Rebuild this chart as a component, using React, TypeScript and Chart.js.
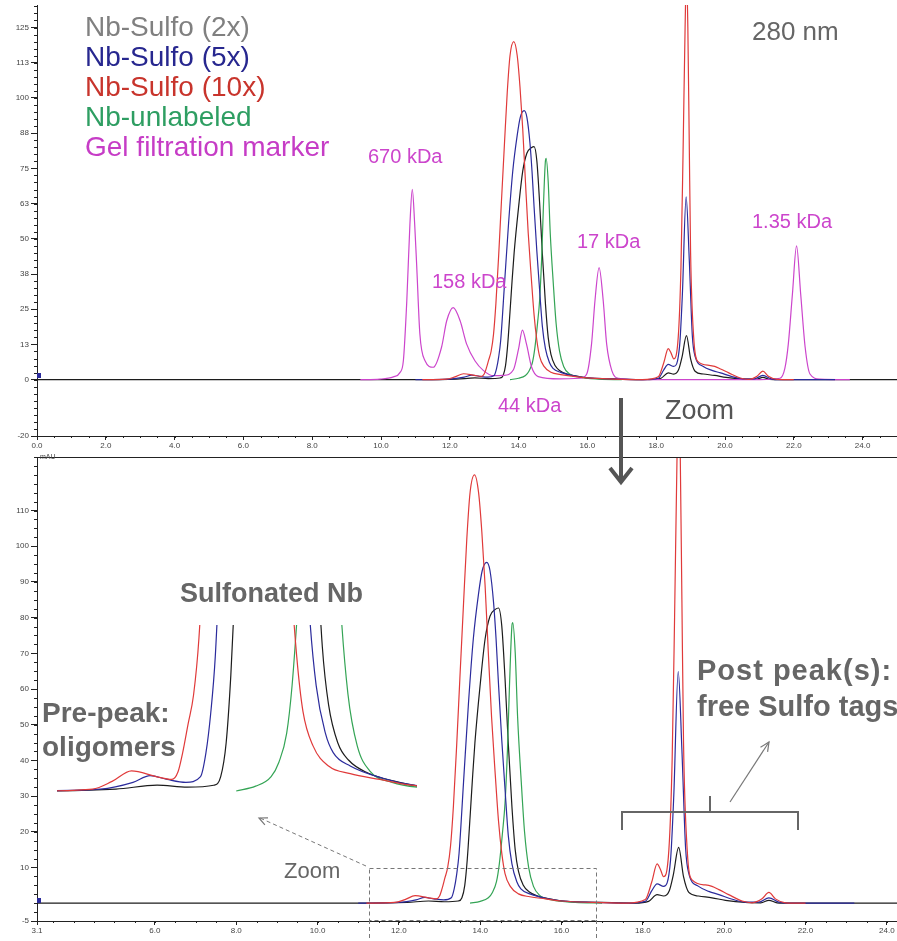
import React, { useEffect, useRef } from 'react';
import { Chart, registerables } from 'chart.js';

Chart.register(...registerables);

type Pt = [number, number];

// ---------- DATA (x = elution volume, y = absorbance 280 nm) ----------
const SERIES_NAMES = ['Nb-Sulfo (2x)', 'Nb-Sulfo (5x)', 'Nb-Sulfo (10x)', 'Nb-unlabeled', 'Gel filtration marker'];

const nbSulfo2x: Pt[] = [
  [0, 0], [11.0, 0], [12.2, 0.2], [12.73, 0.6], [13.12, 0.4], [13.46, 0.6], [13.55, 1.5], [13.62, 5],
  [13.68, 12], [13.75, 24], [13.81, 35], [13.87, 45], [14.0, 61.3], [14.12, 74], [14.24, 80.4],
  [14.37, 82.3], [14.45, 82.7], [14.53, 77.7], [14.61, 63], [14.69, 44.8], [14.78, 27], [14.86, 15],
  [14.94, 9], [15.06, 5], [15.2, 3.2], [15.44, 1.9], [15.8, 1.0], [16.1, 0.5], [17.0, 0.2], [17.8, 0],
  [18.14, 0.5], [18.35, 2.4], [18.51, 2.0], [18.65, 3.5], [18.75, 8], [18.88, 15.6], [19.0, 7.4],
  [19.13, 3.0], [19.37, 2.0], [19.7, 1.5], [20.03, 0.8], [20.52, 0.2], [20.9, 0.1], [21.1, 0.8],
  [21.3, 0.1], [21.6, 0], [25, 0],
];

const nbSulfo5x: Pt[] = [
  [11.0, 0], [12.0, 0.2], [12.42, 0.9], [12.64, 1.6], [12.86, 1.2], [13.1, 0.9], [13.29, 1.5], [13.36, 4],
  [13.42, 8], [13.48, 14], [13.59, 33.9], [13.71, 55.8], [13.83, 74], [13.96, 86.8], [14.05, 93.2],
  [14.16, 95.5], [14.24, 93.2], [14.33, 84], [14.39, 74], [14.45, 61.3], [14.53, 45.7], [14.61, 32],
  [14.69, 19], [14.78, 11], [14.9, 6], [15.0, 4.0], [15.22, 2.6], [15.65, 1.3], [16.04, 0.6], [16.8, 0.2],
  [17.6, 0], [18.06, 0.5], [18.22, 3.5], [18.35, 5.4], [18.51, 4.7], [18.68, 12], [18.76, 30],
  [18.87, 64.9], [18.96, 43], [19.05, 15.6], [19.13, 8.3], [19.37, 4.7], [19.62, 3.3], [19.87, 2.4],
  [20.2, 1.1], [20.52, 0.3], [20.85, 0.3], [21.1, 1.5], [21.34, 0.3], [21.6, 0], [23.2, 0],
];

const nbSulfo10x: Pt[] = [
  [11.2, 0], [11.9, 0.2], [12.15, 1.0], [12.4, 2.1], [12.72, 1.5], [12.92, 1.2], [13.0, 2.0], [13.06, 4.0],
  [13.13, 7], [13.2, 10], [13.27, 16], [13.34, 27], [13.42, 44], [13.5, 63], [13.59, 84], [13.67, 102],
  [13.75, 115], [13.86, 120], [13.96, 115], [14.04, 104], [14.12, 89], [14.2, 70], [14.28, 52],
  [14.37, 36], [14.45, 23], [14.53, 14], [14.61, 8.3], [14.74, 4.7], [14.94, 2.6], [15.22, 1.8],
  [15.6, 1.2], [16.0, 0.6], [16.75, 0.2], [17.6, 0], [18.06, 1.0], [18.22, 6], [18.35, 11], [18.43, 9.5],
  [18.51, 7.4], [18.64, 15], [18.72, 40], [18.78, 80], [18.84, 125], [18.88, 145], [18.92, 125],
  [18.96, 85], [19.0, 45], [19.09, 15], [19.21, 6.5], [19.54, 5.1], [19.7, 4.7], [19.87, 3.8],
  [20.11, 2.4], [20.44, 0.6], [20.69, 0.1], [20.93, 1.2], [21.1, 3.0], [21.26, 1.2], [21.51, 0.1], [22.0, 0],
];

const nbUnlabeled: Pt[] = [
  [13.75, 0], [14.0, 0.5], [14.2, 1.5], [14.3, 3], [14.4, 6], [14.47, 11], [14.55, 20], [14.61, 28],
  [14.67, 43], [14.72, 61], [14.78, 77.7], [14.8, 78.6], [14.86, 70.4], [14.92, 52], [15.01, 33.9],
  [15.09, 20], [15.19, 10.1], [15.31, 4.7], [15.47, 2.1], [15.76, 0.9], [16.34, 0.2], [17.0, 0],
];

const gelMarker: Pt[] = [
  [9.4, 0], [9.97, 0.2], [10.36, 1.0], [10.55, 2.5], [10.65, 6.7], [10.75, 28], [10.84, 55], [10.91, 67.6],
  [10.98, 55], [11.04, 39.8], [11.13, 16.2], [11.28, 6.7], [11.52, 4.4], [11.76, 11.5], [11.91, 20.9],
  [12.1, 25.6], [12.3, 20.9], [12.49, 12.6], [12.73, 6.7], [12.98, 3.2], [13.27, 1.4], [13.56, 1.5],
  [13.85, 3.5], [14.0, 11], [14.11, 17.6], [14.23, 12.6], [14.38, 4.4], [14.57, 1.1], [15.2, 0.3],
  [15.79, 0.5], [15.98, 2], [16.12, 12.6], [16.22, 28], [16.34, 39.8], [16.46, 28], [16.56, 12.6],
  [16.71, 3.2], [16.9, 0.5], [17.63, 0], [21.02, 0], [21.6, 0.5], [21.74, 4], [21.84, 12.6],
  [21.96, 30.4], [22.08, 47.5], [22.2, 30.4], [22.33, 11.5], [22.47, 2], [22.76, 0.2], [23.63, 0],
];

const MARKER_LABELS = ['670 kDa', '158 kDa', '44 kDa', '17 kDa', '1.35 kDa'];

const topXTicks = [0, 2, 4, 6, 8, 10, 12, 14, 16, 18, 20, 22, 24];
const topYTicks = [-20, 0, 12.5, 25, 37.5, 50, 62.5, 75, 87.5, 100, 112.5, 125];
const bottomXTicks = [3.1, 6, 8, 10, 12, 14, 16, 18, 20, 22, 24];
const bottomYTicks = [-5, 10, 20, 30, 40, 50, 60, 70, 80, 90, 100, 110];

// ---------- STYLE ----------
const FAMILY = '"Liberation Sans", Arial, Helvetica, sans-serif';
const C_BLACK = '#1c1c1c';
const C_BLUE = '#2b2b9c';
const C_RED = '#e03a3a';
const C_GREEN = '#34a455';
const C_MAGENTA = '#cc45cc';
const LEGEND_COLORS = ['#808080', '#27278f', '#c8342c', '#2e9e62', '#c63cc6'];
const AXIS = '#222';
const TICK_FONT = { size: 8, family: FAMILY };

const axisDeco = {
  id: 'axisDeco',
  afterDraw(chart: any, _args: any, o: any) {
    if (!o || !o.enabled) return;
    const { ctx, chartArea: ca, scales } = chart;
    const ys = scales.y;
    const xs = scales.x;
    ctx.save();
    ctx.strokeStyle = AXIS;
    ctx.lineWidth = 1;
    ctx.beginPath();
    for (let v = o.yFrom; v <= ys.max + 1e-6; v += o.yStep) {
      const p = Math.round(ys.getPixelForValue(v)) + 0.5;
      if (p < ca.top - 1 || p > ca.bottom + 1) continue;
      ctx.moveTo(ca.left - 3, p);
      ctx.lineTo(ca.left, p);
    }
    for (let v = o.xFrom; v <= xs.max + 1e-6; v += o.xStep) {
      const p = Math.round(xs.getPixelForValue(v)) + 0.5;
      if (p < ca.left || p > ca.right) continue;
      ctx.moveTo(p, ca.bottom);
      ctx.lineTo(p, ca.bottom + 2);
    }
    if (o.topBorder) {
      ctx.moveTo(ca.left, Math.round(ca.top) + 0.5);
      ctx.lineTo(ca.right, Math.round(ca.top) + 0.5);
    }
    ctx.stroke();
    ctx.restore();
  },
};

const ds = (label: string, pts: Pt[], color: string, order: number) => ({
  label,
  data: pts.map(([x, y]) => ({ x, y })),
  borderColor: color,
  backgroundColor: color,
  borderWidth: 1.2,
  pointRadius: 0,
  fill: false,
  cubicInterpolationMode: 'monotone' as const,
  order,
});

function axes(xMin: number, xMax: number, yMin: number, yMax: number, xTicks: number[], yTicks: number[], xH: number, yFmt: (v: number) => string) {
  return {
    x: {
      type: 'linear' as const,
      min: xMin,
      max: xMax,
      afterBuildTicks: (s: any) => { s.ticks = xTicks.map((v) => ({ value: v })); },
      afterFit: (s: any) => { s.height = xH; s.paddingLeft = 0; s.paddingRight = 0; },
      ticks: { autoSkip: false, maxRotation: 0, padding: 1, color: '#444', font: TICK_FONT, callback: (v: any) => Number(v).toFixed(1) },
      grid: { drawOnChartArea: false, tickLength: 4, color: AXIS },
      border: { color: AXIS, width: 1 },
    },
    y: {
      type: 'linear' as const,
      min: yMin,
      max: yMax,
      afterBuildTicks: (s: any) => { s.ticks = yTicks.map((v) => ({ value: v })); },
      afterFit: (s: any) => { s.width = 37; s.paddingTop = 0; s.paddingBottom = 0; },
      ticks: { autoSkip: false, padding: 2, color: '#444', font: TICK_FONT, callback: (v: any) => yFmt(Number(v)) },
      grid: { drawOnChartArea: false, tickLength: 6, color: AXIS },
      border: { color: AXIS, width: 1 },
    },
  };
}

const baseOpts = {
  responsive: false,
  maintainAspectRatio: false,
  animation: false as const,
  devicePixelRatio: 1,
  events: [] as any[],
};

function Txt(p: { x: number; y: number; size: number; color: string; bold?: boolean; ls?: number; children: React.ReactNode }) {
  return (
    <div style={{
      position: 'absolute', left: p.x, top: p.y, fontSize: p.size, lineHeight: 1, color: p.color,
      fontWeight: p.bold ? 700 : 400, whiteSpace: 'nowrap', fontFamily: FAMILY, letterSpacing: p.ls || 0,
    }}>{p.children}</div>
  );
}

export default function App() {
  const topRef = useRef<HTMLCanvasElement>(null);
  const botRef = useRef<HTMLCanvasElement>(null);
  const insRef = useRef<HTMLCanvasElement>(null);

  useEffect(() => {
    const charts: Chart[] = [];
    const nbSets = () => [
      ds(SERIES_NAMES[2], nbSulfo10x, C_RED, 0),
      ds(SERIES_NAMES[1], nbSulfo5x, C_BLUE, 1),
      ds(SERIES_NAMES[3], nbUnlabeled, C_GREEN, 3),
      ds(SERIES_NAMES[0], nbSulfo2x, C_BLACK, 4),
    ];

    if (topRef.current) {
      charts.push(new Chart(topRef.current, {
        type: 'line',
        data: { datasets: [...nbSets(), ds(SERIES_NAMES[4], gelMarker, C_MAGENTA, 2)] },
        options: {
          ...baseOpts,
          layout: { padding: { top: 5, left: 0, right: 0, bottom: 0 } },
          scales: axes(0, 25, -20, 133, topXTicks, topYTicks, 24, (v) => String(Math.round(v))) as any,
          plugins: {
            legend: { display: false },
            tooltip: { enabled: false },
            axisDeco: { enabled: true, yFrom: -20, yStep: 2.5, xFrom: 0, xStep: 0.5, topBorder: false },
          } as any,
        },
        plugins: [axisDeco],
      }));
    }

    if (botRef.current) {
      charts.push(new Chart(botRef.current, {
        type: 'line',
        data: { datasets: nbSets() },
        options: {
          ...baseOpts,
          layout: { padding: { top: 17, left: 0, right: 0, bottom: 0 } },
          scales: axes(3.1, 24.25, -5, 125, bottomXTicks, bottomYTicks, 20, (v) => String(Math.round(v))) as any,
          plugins: {
            legend: { display: false },
            tooltip: { enabled: false },
            axisDeco: { enabled: true, yFrom: -5, yStep: 2.5, xFrom: 3.5, xStep: 0.5, topBorder: true },
          } as any,
        },
        plugins: [axisDeco],
      }));
    }

    if (insRef.current) {
      charts.push(new Chart(insRef.current, {
        type: 'line',
        data: { datasets: nbSets().map((d) => ({ ...d, clip: 0 })) },
        options: {
          ...baseOpts,
          layout: { padding: 0 },
          scales: {
            x: { type: 'linear', min: 11.44, max: 16.08, display: false },
            y: { type: 'linear', min: -0.42, max: 17.3, display: false },
          },
          plugins: { legend: { display: false }, tooltip: { enabled: false } },
        },
      }));
    }

    return () => charts.forEach((c) => c.destroy());
  }, []);

  const G = '#666';
  return (
    <div style={{ position: 'absolute', left: 0, top: 0, width: 897, height: 941, background: '#fff', overflow: 'hidden', fontFamily: FAMILY }}>
      <canvas ref={topRef} width={897} height={460} style={{ position: 'absolute', left: 0, top: 0, width: 897, height: 460 }} />
      <canvas ref={botRef} width={897} height={501} style={{ position: 'absolute', left: 0, top: 440, width: 897, height: 501 }} />
      <canvas ref={insRef} width={360} height={170} style={{ position: 'absolute', left: 57, top: 625, width: 360, height: 170 }} />

      <svg width={897} height={941} style={{ position: 'absolute', left: 0, top: 0, pointerEvents: 'none' }}>
        {/* big zoom arrow */}
        <line x1={621} y1={398} x2={621} y2={481} stroke="#555" strokeWidth={4} />
        <polyline points="610,468 621,482 632,468" fill="none" stroke="#555" strokeWidth={4} strokeLinejoin="miter" />
        {/* bracket */}
        <polyline points="622,830 622,812 798,812 798,830" fill="none" stroke="#666" strokeWidth={2} />
        <line x1={710} y1={812} x2={710} y2={796} stroke="#666" strokeWidth={2} />
        {/* thin arrow to Post peak */}
        <line x1={730} y1={802} x2={769} y2={742} stroke="#777" strokeWidth={1.2} />
        <polyline points="760.5,747.3 769,742 767.6,751.9" fill="none" stroke="#777" strokeWidth={1.2} />
        {/* dashed zoom box */}
        <rect x={369.5} y={868.5} width={227} height={52} fill="none" stroke="#777" strokeWidth={1} strokeDasharray="4 3" />
        <line x1={369.5} y1={920} x2={369.5} y2={938} stroke="#777" strokeDasharray="4 3" />
        <line x1={596.5} y1={920} x2={596.5} y2={938} stroke="#777" strokeDasharray="4 3" />
        {/* dashed arrow to inset */}
        <line x1={366} y1={866} x2={260} y2={818} stroke="#777" strokeWidth={1} strokeDasharray="4 3" />
        <polyline points="264.9,824.8 259,818 268,817.9" fill="none" stroke="#777" strokeWidth={1.2} />
        {/* baseline markers */}
        <rect x={37} y={373} width={4} height={5} fill="#2b2b9c" />
        <rect x={37} y={898} width={4} height={5} fill="#2b2b9c" />
      </svg>

      {/* legend */}
      {SERIES_NAMES.map((n, i) => (
        <Txt key={n} x={85} y={13 + i * 30} size={28} color={LEGEND_COLORS[i]}>{n}</Txt>
      ))}
      <Txt x={752} y={18} size={26} color={G}>280 nm</Txt>
      <Txt x={368} y={146} size={20} color={C_MAGENTA}>{MARKER_LABELS[0]}</Txt>
      <Txt x={432} y={271} size={20} color={C_MAGENTA}>{MARKER_LABELS[1]}</Txt>
      <Txt x={498} y={395} size={20} color={C_MAGENTA}>{MARKER_LABELS[2]}</Txt>
      <Txt x={577} y={231} size={20} color={C_MAGENTA}>{MARKER_LABELS[3]}</Txt>
      <Txt x={752} y={211} size={20} color={C_MAGENTA}>{MARKER_LABELS[4]}</Txt>
      <Txt x={665} y={397} size={27} color="#555">Zoom</Txt>
      <Txt x={40} y={453} size={7} color="#444">mAU</Txt>

      <Txt x={180} y={580} size={27} color={G} bold>Sulfonated Nb</Txt>
      <Txt x={42} y={699} size={28} color={G} bold>Pre-peak:</Txt>
      <Txt x={42} y={733} size={28} color={G} bold>oligomers</Txt>
      <Txt x={697} y={656} size={29} color={G} bold ls={1}>Post peak(s):</Txt>
      <Txt x={697} y={692} size={29} color={G} bold>free Sulfo tags</Txt>
      <Txt x={284} y={860} size={22} color={G}>Zoom</Txt>
    </div>
  );
}
